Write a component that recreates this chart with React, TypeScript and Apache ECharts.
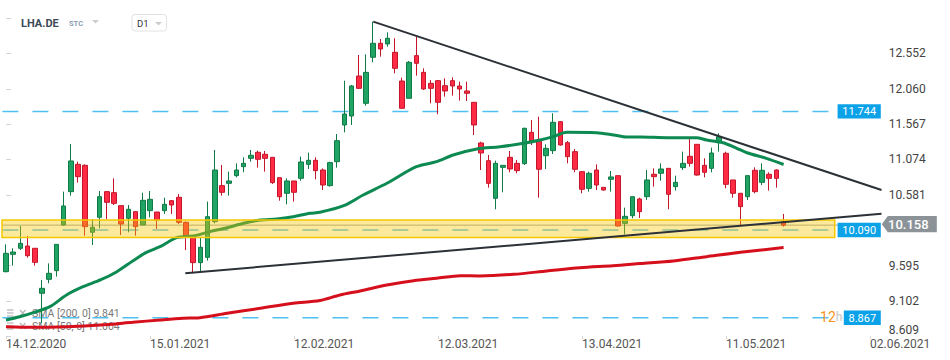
import React, { useEffect, useRef } from 'react';
import * as echarts from 'echarts';

const symbolName = 'LHA.DE';
const symbolType = 'STC';
const timeframe = 'D1';

const xTickLabels = ['14.12.2020', '15.01.2021', '12.02.2021', '12.03.2021', '13.04.2021', '11.05.2021', '02.06.2021'];
const yTickLabels = ['8.609', '9.102', '9.595', '', '10.581', '11.074', '11.567', '12.060', '12.552'];
const yMin = 8.609;
const yStep = 0.4929;
const yMax = 13.04;

const firstDay = [2020, 11, 14];
const holidays = ['24.12.2020', '25.12.2020', '31.12.2020', '01.01.2021', '02.04.2021', '05.04.2021'];
const futureDays = 13;

// [open, close, low, high]
const candles = [
  [9.509, 9.765, 9.5, 9.89], [9.751, 9.783, 9.593, 9.835], [9.835, 9.904, 9.811, 10.146], [9.867, 9.732, 9.705, 10.007],
  [9.835, 9.639, 9.593, 9.835], [9.207, 9.277, 8.789, 9.393], [9.402, 9.486, 9.347, 9.625], [9.523, 9.89, 9.44, 9.89],
  [10.16, 10.425, 10.151, 10.625], [10.625, 11.053, 10.569, 11.29], [11.006, 10.834, 10.751, 11.043], [10.992, 10.137, 10.011, 11.006],
  [10.058, 10.128, 9.881, 10.244], [10.267, 10.555, 10.114, 10.634], [10.625, 10.476, 10.244, 10.634], [10.611, 10.462, 10.439, 10.811],
  [10.43, 10.174, 10.021, 10.43], [10.253, 10.379, 10.058, 10.439], [10.346, 10.137, 10.011, 10.346], [10.16, 10.504, 10.16, 10.611],
  [10.36, 10.518, 10.267, 10.634], [10.341, 10.23, 10.104, 10.341], [10.36, 10.448, 10.314, 10.541], [10.499, 10.439, 10.314, 10.509],
  [10.546, 10.197, 10.174, 10.592], [10.197, 9.997, 9.811, 10.207], [9.983, 9.635, 9.486, 9.983], [9.635, 9.849, 9.509, 9.983],
  [9.709, 10.276, 9.663, 10.486], [10.207, 10.927, 10.183, 11.206], [10.709, 10.616, 10.569, 10.997], [10.741, 10.774, 10.569, 10.904],
  [10.848, 10.927, 10.825, 11.02], [10.974, 11.02, 10.895, 11.104], [11.09, 11.132, 11.043, 11.206], [11.174, 11.076, 10.96, 11.197],
  [11.146, 11.09, 10.904, 11.192], [11.104, 10.751, 10.732, 11.104], [10.82, 10.555, 10.499, 10.82], [10.602, 10.774, 10.448, 10.811],
  [10.774, 10.616, 10.486, 10.774], [10.811, 11.039, 10.778, 11.113], [11.006, 11.062, 10.941, 11.169], [11.062, 10.918, 10.797, 11.104],
  [10.927, 10.718, 10.648, 10.95], [10.709, 11.03, 10.695, 11.043], [11.043, 11.336, 10.96, 11.429], [11.555, 11.708, 11.452, 12.173],
  [11.68, 12.099, 11.555, 12.113], [12.238, 12.066, 12.057, 12.531], [11.857, 12.289, 11.824, 12.54], [12.499, 12.694, 12.429, 12.996],
  [12.694, 12.615, 12.508, 12.754], [12.685, 12.764, 12.647, 12.847], [12.568, 12.345, 12.275, 12.764], [12.168, 11.787, 11.787, 12.215],
  [11.927, 12.429, 11.927, 12.447], [12.522, 12.415, 12.243, 12.801], [12.289, 12.057, 12.043, 12.345], [12.136, 12.066, 11.857, 12.182],
  [12.173, 11.871, 11.704, 12.182], [12.103, 12.029, 11.95, 12.206], [12.173, 12.099, 11.964, 12.22], [12.099, 12.057, 11.894, 12.159],
  [12.029, 11.997, 11.89, 12.159], [11.871, 11.555, 11.415, 11.871], [11.304, 11.164, 10.927, 11.322], [11.057, 10.741, 10.681, 11.136],
  [10.532, 11.02, 10.379, 11.057], [10.964, 10.992, 10.616, 10.992], [11.104, 10.941, 10.895, 11.192], [11.02, 10.918, 10.881, 11.067],
  [11.016, 11.508, 10.997, 11.518], [11.452, 11.332, 11.276, 11.625], [11.346, 10.937, 10.541, 11.671], [11.127, 11.229, 10.941, 11.285],
  [11.197, 11.592, 11.15, 11.718], [11.601, 11.276, 11.267, 11.611], [11.308, 11.113, 11.02, 11.332], [11.183, 10.937, 10.895, 11.22],
  [10.904, 10.658, 10.602, 10.904], [10.671, 10.881, 10.625, 10.904], [10.927, 10.718, 10.648, 11.006], [10.685, 10.648, 10.639, 10.685],
  [10.797, 10.83, 10.625, 10.913], [10.848, 10.146, 10.137, 10.848], [10.183, 10.281, 10.03, 10.402], [10.29, 10.555, 10.253, 10.555],
  [10.523, 10.346, 10.258, 10.541], [10.555, 10.788, 10.509, 10.927], [10.867, 10.834, 10.695, 10.95], [10.881, 10.941, 10.778, 11.02],
  [10.95, 10.588, 10.379, 10.95], [10.695, 10.755, 10.639, 10.848], [10.96, 11.02, 10.927, 11.183], [11.118, 11.02, 10.974, 11.36],
  [11.285, 10.857, 10.848, 11.285], [10.992, 10.895, 10.825, 11.09], [10.95, 11.164, 10.895, 11.239], [11.308, 11.392, 11.183, 11.439],
  [11.16, 10.727, 10.671, 11.183], [10.788, 10.602, 10.541, 10.788], [10.602, 10.416, 10.151, 10.602], [10.555, 10.848, 10.509, 10.857],
  [10.923, 10.625, 10.602, 10.964], [10.755, 10.923, 10.718, 11.02], [10.867, 10.811, 10.639, 10.895], [10.927, 10.811, 10.681, 10.937],
  [10.207, 10.158, 10.137, 10.314],
];

// [candle index, value]
const sma50 = [
  [0, 8.835], [1.9, 8.881], [3.8, 8.937], [6.1, 9.021], [8.4, 9.184], [10.7, 9.3], [13.1, 9.393], [15.4, 9.509],
  [17.6, 9.658], [19.5, 9.779], [21.4, 9.857], [23.7, 9.983], [26, 10.007], [28.3, 10.067], [30.7, 10.122], [33, 10.184],
  [35.3, 10.23], [37.6, 10.244], [39.9, 10.276], [42.2, 10.323], [43.6, 10.337], [46.9, 10.429], [49.6, 10.578], [52.9, 10.742],
  [57, 10.973], [59.8, 11.043], [62.1, 11.136], [65.4, 11.22], [68.6, 11.252], [71.9, 11.3], [74.2, 11.346], [76, 11.392],
  [77.9, 11.453], [82, 11.447], [84.4, 11.415], [86.2, 11.387], [88.1, 11.387], [91.8, 11.378], [95.9, 11.378], [97.3, 11.346],
  [99.6, 11.308], [101.5, 11.23], [102.9, 11.168], [105.6, 11.09], [108, 11.004],
];
const sma200 = [
  [0, 8.742], [3.8, 8.733], [8.4, 8.742], [13.1, 8.765], [17.6, 8.803], [21.4, 8.835], [24.6, 8.859], [26.9, 8.867],
  [30.7, 8.929], [35.3, 8.998], [39.9, 9.068], [43.6, 9.107], [46.4, 9.184], [49.2, 9.24], [52.9, 9.323], [56.6, 9.383],
  [59.8, 9.417], [63.1, 9.453], [65.8, 9.45], [70.5, 9.472], [75.1, 9.519], [79.7, 9.565], [84.3, 9.592], [88.1, 9.622],
  [92.7, 9.658], [97.3, 9.718], [102, 9.779], [108, 9.845],
];
const sma50Label = 'SMA [50, 0] 11.004';
const sma200Label = 'SMA [200, 0] 9.841';

const trendDown = [[51, 12.996], [121.6, 10.648]];
const trendUp = [[24.9, 9.487], [121.6, 10.318]];

// [from index, to index, low, high]
const supportZone = [[-0.55, 115.1, 9.985, 10.228]];

const levels = [11.744, 10.09, 8.867];
const levelLabels = ['11.744', '10.090', '8.867'];
const lastPrice = 10.158;
const lastPriceLabel = '10.158';
const countdown = ['12', 'h'];

function fmt(d: Date) {
  const dd = String(d.getUTCDate()).padStart(2, '0');
  const mm = String(d.getUTCMonth() + 1).padStart(2, '0');
  return `${dd}.${mm}.${d.getUTCFullYear()}`;
}
function buildCategories() {
  const out: string[] = [];
  let d = new Date(Date.UTC(firstDay[0], firstDay[1], firstDay[2]));
  while (out.length < candles.length) {
    const wd = d.getUTCDay();
    const s = fmt(d);
    if (wd !== 0 && wd !== 6 && !holidays.includes(s)) out.push(s);
    d = new Date(d.getTime() + 86400000);
  }
  for (let i = 0; i < futureDays; i++) {
    out.push(fmt(d));
    d = new Date(d.getTime() + 86400000);
  }
  return out;
}

const FONT = 'Roboto';

export default function App() {
  const ref = useRef<HTMLDivElement>(null);
  useEffect(() => {
    if (!ref.current) return;
    const chart = echarts.init(ref.current, null, { renderer: 'svg' });
    const cats = buildCategories();
    const n = cats.length;
    const isTick = (_i: number, v: string) => xTickLabels.includes(v);

    const option: any = {
      animation: false,
      textStyle: { fontFamily: FONT },
      grid: { left: 2.4, right: 69.2, top: 18.5, bottom: 23.8 },
      xAxis: [
        {
          type: 'category',
          data: cats,
          boundaryGap: true,
          axisLine: { show: false },
          axisTick: { show: true, alignWithLabel: true, interval: isTick, length: 3, lineStyle: { color: '#d4d4d4' } },
          axisLabel: { interval: isTick, align: 'left', color: '#555', fontSize: 12, margin: 2, fontFamily: FONT },
          splitLine: { show: false },
        },
        { type: 'value', min: -0.5, max: n - 0.5, show: false },
      ],
      yAxis: {
        type: 'value',
        position: 'right',
        min: yMin,
        max: yMax,
        interval: yStep,
        axisLine: { show: false },
        axisTick: { show: true, length: 5, lineStyle: { color: '#d4d4d4' } },
        splitLine: { show: false },
        axisLabel: {
          margin: 8,
          color: '#444',
          fontSize: 12,
          fontFamily: FONT,
          formatter: (v: number) => {
            const k = Math.round((v - yMin) / yStep);
            if (Math.abs(yMin + k * yStep - v) > 1e-6) return '';
            const t = yTickLabels[k] ?? '';
            if (!t) return '';
            return k === 0 ? `{b|${t}}` : t;
          },
          rich: { b: { padding: [0, 0, 13, 0], color: '#444', fontSize: 12, fontFamily: FONT } },
        },
      },
      series: [
        {
          type: 'line', xAxisIndex: 1, z: 1, silent: true, symbol: 'none',
          data: [[-0.5, lastPrice], [n - 0.5, lastPrice]],
          lineStyle: { color: '#9aa0a6', width: 1 },
        },
        {
          type: 'candlestick', xAxisIndex: 0, z: 2, barWidth: 5,
          data: candles,
          itemStyle: { color: '#1fa463', color0: '#ff2b45', borderColor: '#107a47', borderColor0: '#c4162a', borderWidth: 1 },
        },
        {
          type: 'line', xAxisIndex: 1, z: 3, symbol: 'none', smooth: 0.3, data: sma200,
          lineStyle: { color: '#d5101c', width: 3 },
        },
        {
          type: 'line', xAxisIndex: 1, z: 3, symbol: 'none', smooth: 0.3, data: sma50,
          lineStyle: { color: '#0d8a51', width: 3 },
        },
        {
          type: 'custom', xAxisIndex: 1, z: 4, silent: true,
          data: supportZone,
          encode: { x: [0, 1], y: [2, 3] },
          renderItem: (_p: any, api: any) => {
            const a = api.coord([api.value(0), api.value(3)]);
            const b = api.coord([api.value(1), api.value(2)]);
            return {
              type: 'rect',
              shape: { x: a[0], y: a[1], width: b[0] - a[0], height: b[1] - a[1] },
              style: { fill: 'rgba(247,199,0,0.39)', stroke: '#f5c800', lineWidth: 1.5 },
            };
          },
        },
        {
          type: 'line', xAxisIndex: 1, z: 5, symbol: 'none', data: trendDown,
          lineStyle: { color: '#2b3137', width: 2 },
        },
        {
          type: 'line', xAxisIndex: 1, z: 5, symbol: 'none', data: trendUp,
          lineStyle: { color: '#2b3137', width: 2 },
        },
      ],
    };
    chart.setOption(option);

    const yPix = (v: number) => chart.convertToPixel({ yAxisIndex: 0 } as any, v) as number;
    const L = chart.convertToPixel({ xAxisIndex: 1 } as any, -0.5) as number;
    const R = chart.convertToPixel({ xAxisIndex: 1 } as any, n - 0.5) as number;

    const g: any[] = [];
    // header
    g.push({ type: 'text', z: 100, x: 21, y: 23, style: { text: symbolName, font: `bold 11px ${FONT}`, fill: '#3b4a56', textVerticalAlign: 'middle' } });
    g.push({ type: 'text', z: 100, x: 69, y: 23.5, style: { text: symbolType, font: `bold 7.5px ${FONT}`, fill: '#8aa0b2', textVerticalAlign: 'middle' } });
    g.push({ type: 'polygon', z: 100, shape: { points: [[92, 20], [99, 20], [95.5, 23.5]] }, style: { fill: '#cccccc' } });
    g.push({ type: 'rect', z: 100, shape: { x: 132, y: 14.5, width: 34.5, height: 16.5, r: 3 }, style: { fill: '#fff', stroke: '#e2e2e2', lineWidth: 1 } });
    g.push({ type: 'text', z: 101, x: 137, y: 23.5, style: { text: timeframe, font: `9.5px ${FONT}`, fill: '#333', textVerticalAlign: 'middle' } });
    g.push({ type: 'polygon', z: 101, shape: { points: [[155, 22], [162, 22], [158.5, 25.5]] }, style: { fill: '#cccccc' } });

    // legend rows
    const legendRows = [sma200Label, sma50Label];
    legendRows.forEach((t, i) => {
      const cy = 313 + i * 13;
      [-3, 0, 3].forEach((dy) => g.push({ type: 'rect', z: 1, shape: { x: 7, y: cy + dy - 0.6, width: 6.5, height: 1.2 }, style: { fill: '#b5b5b5' } }));
      g.push({ type: 'line', z: 1, shape: { x1: 20, y1: cy - 3, x2: 25.5, y2: cy + 3 }, style: { stroke: '#b5b5b5', lineWidth: 1.2 } });
      g.push({ type: 'line', z: 1, shape: { x1: 25.5, y1: cy - 3, x2: 20, y2: cy + 3 }, style: { stroke: '#b5b5b5', lineWidth: 1.2 } });
      g.push({ type: 'text', z: 1, x: 32, y: cy + 0.5, style: { text: t, font: `10.5px ${FONT}`, fill: '#7a7a7a', textVerticalAlign: 'middle' } });
    });

    // horizontal levels
    levels.forEach((v, i) => {
      const y = yPix(v);
      const w = levelLabels[i].length * 6.2 + 6;
      g.push({ type: 'line', z: 1, shape: { x1: L, y1: y, x2: R - w - 1, y2: y }, style: { stroke: '#4fc0f2', lineWidth: 1.5, lineDash: [16, 14] } });
      g.push({ type: 'rect', z: 100, shape: { x: R - w, y: y - 7.2, width: w, height: 14.4 }, style: { fill: '#0ba2e8' } });
      g.push({ type: 'text', z: 101, x: R - w / 2, y: y + 0.5, style: { text: levelLabels[i], font: `11px ${FONT}`, fill: '#fff', textAlign: 'center', textVerticalAlign: 'middle' } });
    });

    // countdown text beside the lowest label
    const yc = yPix(levels[2]) - 1;
    const wLow = levelLabels[2].length * 6.2 + 6;
    g.push({ type: 'text', z: 99, x: R - wLow - 8, y: yc, style: { text: countdown[1], font: `12px ${FONT}`, fill: '#c4c4c4', textVerticalAlign: 'middle' } });
    g.push({ type: 'text', z: 99, x: R - wLow - 8, y: yc, style: { text: countdown[0], font: `14px ${FONT}`, fill: '#f7931e', textAlign: 'right', textVerticalAlign: 'middle' } });

    // last price tag
    const yp = yPix(lastPrice) - 1;
    g.push({ type: 'polygon', z: 100, shape: { points: [[R + 1, yp], [R + 7, yp - 8.2], [R + 56, yp - 8.2], [R + 56, yp + 8.2], [R + 7, yp + 8.2]] }, style: { fill: '#8b9399' } });
    g.push({ type: 'text', z: 101, x: R + 27.5, y: yp + 0.5, style: { text: lastPriceLabel, font: `500 13px ${FONT}`, fill: '#fff', textAlign: 'center', textVerticalAlign: 'middle' } });

    chart.setOption({ graphic: g });
    return () => chart.dispose();
  }, []);
  return <div ref={ref} style={{ position: 'fixed', left: 0, top: 0, width: 950, height: 360, background: '#fff' }} />;
}
